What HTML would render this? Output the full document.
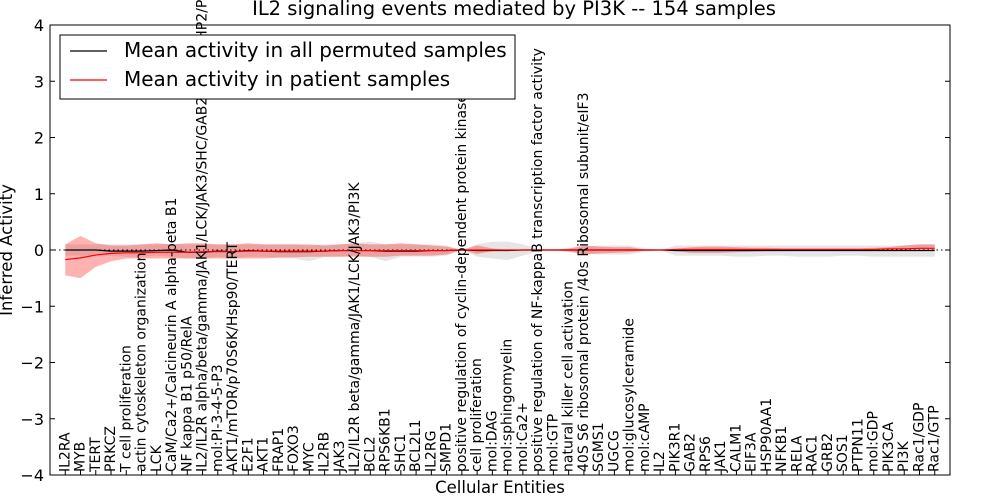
<!DOCTYPE html>
<html><head><meta charset="utf-8"><style>
html,body{margin:0;padding:0;background:#fff;overflow:hidden;width:1000px;height:500px}
svg{display:block;font-family:"DejaVu Sans","Liberation Sans",sans-serif}
</style></head><body>
<svg id="chart" width="1000" height="500" xmlns="http://www.w3.org/2000/svg">
<g id="bands"></g><g id="lines"></g><g id="ticks"></g><g id="labels"></g>
<rect x="50" y="25" width="900" height="450" fill="none" stroke="#000" stroke-width="1"/>
<text x="514" y="15" text-anchor="middle" font-size="19.5">IL2 signaling events mediated by PI3K -- 154 samples</text>
<text x="500" y="493" text-anchor="middle" font-size="16.5">Cellular Entities</text>
<text x="12" y="250" text-anchor="middle" font-size="16.5" transform="rotate(-90 12 250)">Inferred Activity</text>
<g id="legend">
<rect x="60" y="35" width="455" height="64" fill="#fff" stroke="#000"/>
<line x1="70" y1="51" x2="107" y2="51" stroke="#000" stroke-width="1.2"/>
<text x="124" y="57" font-size="20">Mean activity in all permuted samples</text>
<line x1="70" y1="80" x2="107" y2="80" stroke="#f00" stroke-width="1.2"/>
<text x="124" y="86" font-size="20">Mean activity in patient samples</text>
</g>
</svg>
<script>
const categories=["IL2RA","MYB","TERT","PRKCZ","T cell proliferation","actin cytoskeleton organization","LCK","CaM/Ca2+/Calcineurin A alpha-beta B1","NF kappa B1 p50/RelA","IL2/IL2R alpha/beta/gamma/JAK1/LCK/JAK3/SHC/GAB2/SOS1/SHP2/PI3K","mol:PI-3-4-5-P3","AKT1/mTOR/p70S6K/Hsp90/TERT","E2F1","AKT1","FRAP1","FOXO3","MYC","IL2RB","JAK3","IL2/IL2R beta/gamma/JAK1/LCK/JAK3/PI3K","BCL2","RPS6KB1","SHC1","BCL2L1","IL2RG","SMPD1","positive regulation of cyclin-dependent protein kinase","cell proliferation","mol:DAG","mol:sphingomyelin","mol:Ca2+","positive regulation of NF-kappaB transcription factor activity","mol:GTP","natural killer cell activation","40S S6 ribosomal protein /40s Ribosomal subunit/eIF3","SGMS1","UGCG","mol:glucosylceramide","mol:cAMP","IL2","PIK3R1","GAB2","RPS6","JAK1","CALM1","EIF3A","HSP90AA1","NFKB1","RELA","RAC1","GRB2","SOS1","PTPN11","mol:GDP","PIK3CA","PI3K","Rac1/GDP","Rac1/GTP"];
const patientMean=[-0.17,-0.14,-0.09,-0.06,-0.05,-0.05,-0.04,-0.04,-0.04,-0.03,-0.03,-0.03,-0.02,-0.02,-0.02,-0.02,-0.02,-0.02,-0.01,-0.01,-0.01,-0.01,-0.01,-0.01,-0.01,-0.01,0,0,0,0,0,0,0,0,0,0,0,0,0,0,0.01,0.01,0.01,0.01,0.01,0.01,0.01,0.01,0.01,0.01,0.01,0.01,0.01,0.01,0.02,0.02,0.03,0.03];
const patientHi=[0.1,0.25,0.12,0.08,0.08,0.1,0.12,0.1,0.12,0.12,0.1,0.1,0.12,0.1,0.1,0.1,0.1,0.08,0.1,0.12,0.1,0.1,0.12,0.1,0.08,0.06,0,0.08,0.03,0,0,0,0,0.03,0.08,0.06,0.05,0.05,0.01,0,0.02,0.05,0.06,0.06,0.05,0.04,0.04,0.03,0.03,0.03,0.03,0.03,0.03,0.04,0.05,0.08,0.1,0.1];
const patientLo=[-0.45,-0.5,-0.3,-0.2,-0.15,-0.15,-0.15,-0.15,-0.15,-0.15,-0.15,-0.15,-0.15,-0.15,-0.13,-0.13,-0.12,-0.12,-0.12,-0.12,-0.12,-0.12,-0.1,-0.1,-0.1,-0.08,0,-0.07,-0.02,0,0,0,0,-0.03,-0.08,-0.06,-0.05,-0.04,-0.01,0,-0.02,-0.05,-0.05,-0.05,-0.04,-0.03,-0.02,-0.02,-0.01,-0.01,-0.01,-0.01,-0.01,-0.01,0,0,0,0];
const permutedMean=[0,0,0,-0.02,-0.02,-0.02,-0.01,0,-0.04,-0.04,-0.02,-0.03,-0.01,-0.02,-0.03,-0.03,-0.03,-0.02,-0.01,-0.01,-0.01,-0.02,-0.02,-0.02,-0.01,-0.01,0,-0.01,-0.01,-0.01,0,0,0,0,0,0,0,0,0,0,-0.01,-0.01,-0.01,-0.01,-0.01,-0.01,-0.01,-0.01,-0.01,-0.01,-0.01,-0.01,-0.01,-0.01,-0.01,-0.01,-0.01,-0.01];
const permutedHi=[0.1,0.1,0.1,0.1,0.1,0.1,0.1,0.1,0.1,0.1,0.1,0.1,0.1,0.1,0.1,0.1,0.08,0.1,0.1,0.12,0.15,0.1,0.1,0.1,0.1,0.08,0,0.1,0.15,0.15,0.1,0.02,0,0.02,0.06,0.08,0.08,0.08,0.03,0,0.08,0.08,0.08,0.08,0.08,0.08,0.08,0.08,0.08,0.08,0.08,0.08,0.08,0.08,0.08,0.08,0.1,0.1];
const permutedLo=[-0.1,-0.1,-0.1,-0.1,-0.12,-0.12,-0.1,-0.12,-0.15,-0.15,-0.12,-0.15,-0.12,-0.12,-0.15,-0.15,-0.2,-0.12,-0.12,-0.1,-0.12,-0.2,-0.12,-0.12,-0.12,-0.1,0,-0.12,-0.15,-0.18,-0.1,-0.02,0,-0.02,-0.06,-0.08,-0.08,-0.08,-0.03,0,-0.1,-0.1,-0.1,-0.1,-0.12,-0.12,-0.1,-0.1,-0.12,-0.12,-0.12,-0.1,-0.1,-0.12,-0.12,-0.12,-0.12,-0.12];
const yTicks=[4,3,2,1,0,-1,-2,-3,-4];
const yTickLabels=["4","3","2","1","0","\u22121","\u22122","\u22123","\u22124"];

const NS="http://www.w3.org/2000/svg";
const L=50,R=950,T=25,B=475;
const xs=i=>L+(i+1)*(R-L)/(categories.length+1);
const ys=v=>T+(4-v)*(B-T)/8;
function mk(tag,attrs,parent){const e=document.createElementNS(NS,tag);for(const k in attrs)e.setAttribute(k,attrs[k]);document.getElementById(parent).appendChild(e);return e;}
function bandPath(hi,lo){let d="";hi.forEach((v,i)=>d+=(i?"L":"M")+xs(i)+","+ys(v));for(let i=lo.length-1;i>=0;i--)d+="L"+xs(i)+","+ys(lo[i]);return d+"Z";}
function linePath(a){return a.map((v,i)=>(i?"L":"M")+xs(i)+","+ys(v)).join("");}

let e=mk("path",{d:bandPath(permutedHi,permutedLo),fill:"#000","fill-opacity":"0.1",stroke:"none"},"bands");


e=mk("path",{d:bandPath(patientHi,patientLo),fill:"#f00","fill-opacity":"0.3",stroke:"none"},"bands");


e=mk("line",{x1:L,x2:R,y1:ys(0),y2:ys(0),stroke:"#000","stroke-dasharray":"1.5,3","stroke-width":"1"},"lines");


e=mk("path",{d:linePath(permutedMean),fill:"none",stroke:"#000","stroke-width":"1.2"},"lines");


e=mk("path",{d:linePath(patientMean),fill:"none",stroke:"#f00","stroke-width":"1.2"},"lines");



yTicks.forEach((v,i)=>{
  const y=ys(v);
  let t=mk("line",{x1:L,x2:L+5,y1:y,y2:y,stroke:"#000"},"ticks");
  
  
  t=mk("line",{x1:R-5,x2:R,y1:y,y2:y,stroke:"#000"},"ticks");
  
  
  const lb=mk("text",{x:L-6,y:y+6,"text-anchor":"end","font-size":"16"},"labels");
  lb.textContent=yTickLabels[i];
  
  
});
categories.forEach((c,i)=>{
  const x=xs(i);
  let t=mk("line",{x1:x,x2:x,y1:B,y2:B-5,stroke:"#000"},"ticks");
  
  
  const lb=mk("text",{x:0,y:0,"font-size":"14","dominant-baseline":"central",transform:"translate("+x+","+(B-3)+") rotate(-90)"},"labels");
  lb.textContent=c;
  
  
});
const svg=document.getElementById("chart");
svg.appendChild(document.getElementById("legend"));
</script>
</body></html>
